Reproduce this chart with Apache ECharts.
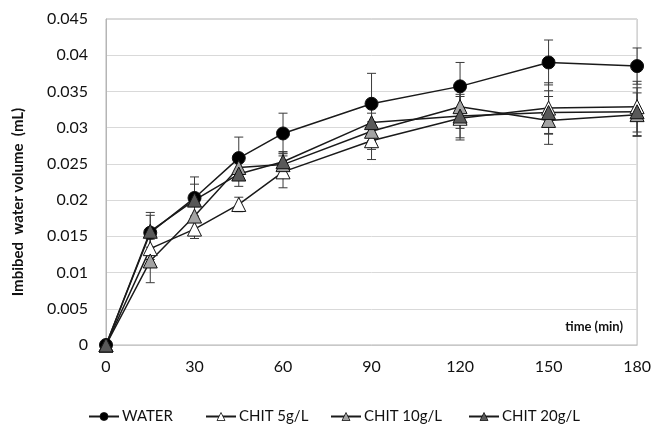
<!DOCTYPE html>
<html>
<head>
<meta charset="utf-8">
<script src="https://cdn.jsdelivr.net/npm/echarts@6/dist/echarts.min.js"></script>
<style>html,body{margin:0;padding:0;background:#fff;}#c{width:654px;height:431px;}</style>
</head>
<body>
<div id="c"></div>
<script>
var times = [0, 15, 30, 45, 60, 90, 120, 150, 180];
var xTicks = [0, 30, 60, 90, 120, 150, 180];
var seriesNames = ['WATER', 'CHIT 5g/L', 'CHIT 10g/L', 'CHIT 20g/L'];
var water    = [0, 0.0155, 0.0203, 0.0258, 0.0292, 0.0333, 0.0357, 0.0390, 0.0385];
var waterErr = [0, 0.0028, 0.0029, 0.0029, 0.0028, 0.0042, 0.0033, 0.0031, 0.0025];
var chit5    = [0, 0.0133, 0.0160, 0.0194, 0.0239, 0.0282, 0.0313, 0.0327, 0.0329];
var chit5Err = [0, 0.0015, 0.0013, 0.0010, 0.0022, 0.0026, 0.0030, 0.0035, 0.0035];
var chit10   = [0, 0.0116, 0.0178, 0.0245, 0.0249, 0.0295, 0.0329, 0.0310, 0.0318];
var chit10Err= [0, 0.0030, 0.0020, 0.0015, 0.0018, 0.0025, 0.0030, 0.0033, 0.0030];
var chit20   = [0, 0.0157, 0.0200, 0.0236, 0.0253, 0.0307, 0.0316, 0.0321, 0.0322];
var chit20Err= [0, 0.0022, 0.0022, 0.0017, 0.0012, 0.0025, 0.0030, 0.0030, 0.0033];

var font = 'Lato, "Open Sans", sans-serif';
var chart = echarts.init(document.getElementById('c'));

function pts(vals) { return times.map(function (t, i) { return [t, vals[i]]; }); }
function errPts(vals, errs) { return times.map(function (t, i) { return [t, vals[i] - errs[i], vals[i] + errs[i]]; }); }

function errSeries(vals, errs) {
  return {
    type: 'custom',
    silent: true,
    z: 1,
    data: errPts(vals, errs),
    encode: { x: 0, y: [1, 2] },
    renderItem: function (params, api) {
      if (api.value(2) - api.value(1) <= 0) return null;
      var lo = api.coord([api.value(0), api.value(1)]);
      var hi = api.coord([api.value(0), api.value(2)]);
      var w = 4.5;
      var st = { stroke: '#3a3a3a', lineWidth: 1 };
      return {
        type: 'group',
        children: [
          { type: 'line', shape: { x1: lo[0], y1: lo[1], x2: hi[0], y2: hi[1] }, style: st },
          { type: 'line', shape: { x1: lo[0] - w, y1: lo[1], x2: lo[0] + w, y2: lo[1] }, style: st },
          { type: 'line', shape: { x1: hi[0] - w, y1: hi[1], x2: hi[0] + w, y2: hi[1] }, style: st }
        ]
      };
    }
  };
}

function lineSeries(name, vals, symbol, fill) {
  return {
    name: name,
    type: 'line',
    data: pts(vals),
    symbol: symbol,
    symbolSize: symbol === 'circle' ? 13 : 14,
    showAllSymbol: true,
    z: 3,
    lineStyle: { color: '#1a1a1a', width: 1.5 },
    itemStyle: { color: fill, borderColor: '#111', borderWidth: 1 },
    emphasis: { disabled: true }
  };
}

var legendLefts = [88, 205, 330, 468];
var legends = seriesNames.map(function (n, i) {
  return {
    data: [n],
    left: legendLefts[i],
    top: 409,
    itemWidth: 30,
    itemHeight: 10,
    itemGap: 4,
    padding: 0,
    selectedMode: false,
    itemStyle: { borderWidth: 0.8 },
    textStyle: { fontFamily: font, fontSize: 15, color: '#111', padding: [0, 0, 0, -2] }
  };
});

chart.setOption({
  animation: false,
  backgroundColor: '#fff',
  legend: legends,
  grid: { left: 106, right: 14, top: 19, bottom: 86, show: true, borderColor: '#b5b5b5', borderWidth: 1 },
  xAxis: {
    type: 'value',
    min: 0, max: 180, interval: 30,
    axisLine: { show: true, lineStyle: { color: '#c8c8c8' } },
    axisTick: { show: false },
    splitLine: { show: false },
    axisLabel: {
      margin: 14, fontFamily: font, fontSize: 16, color: '#111',
      formatter: function (v) { return xTicks.indexOf(v) >= 0 ? String(v) : ''; }
    }
  },
  yAxis: {
    type: 'value',
    min: 0, max: 0.045, interval: 0.005,
    axisLine: { show: true, lineStyle: { color: '#b5b5b5' } },
    axisTick: { show: false },
    splitLine: { show: true, lineStyle: { color: '#d9d9d9', width: 1 } },
    axisLabel: {
      margin: 18, fontFamily: font, fontSize: 16, color: '#111',
      formatter: function (v) { return String(Math.round(v * 1000) / 1000); }
    }
  },
  graphic: [{
    type: 'text',
    right: 31,
    top: 320,
    style: { text: 'time (min)', font: 'bold 13px ' + font, fill: '#111' }
  }, {
    type: 'text',
    x: 18,
    y: 202,
    rotation: Math.PI / 2,
    style: { text: 'Imbibed  water volume  (mL)', font: 'bold 15px ' + font, fill: '#111', align: 'center', verticalAlign: 'middle' }
  }],
  series: [
    errSeries(water, waterErr),
    errSeries(chit5, chit5Err),
    errSeries(chit10, chit10Err),
    errSeries(chit20, chit20Err),
    lineSeries(seriesNames[0], water, 'circle', '#000'),
    lineSeries(seriesNames[1], chit5, 'triangle', '#ffffff'),
    lineSeries(seriesNames[2], chit10, 'triangle', '#a3a3a3'),
    lineSeries(seriesNames[3], chit20, 'triangle', '#595959')
  ]
});
</script>
</body>
</html>
